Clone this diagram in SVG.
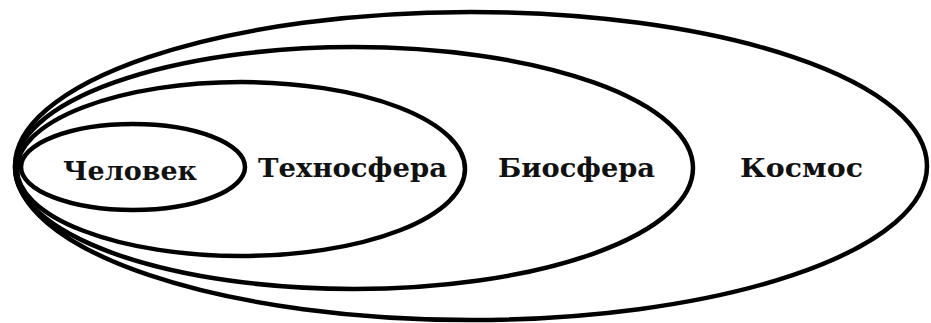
<svg xmlns="http://www.w3.org/2000/svg" width="931" height="323" viewBox="0 0 931 323">
<style>
.ring{fill:none;stroke:#000;stroke-width:4.5}
.lbl{font-family:"DejaVu Serif","Liberation Serif",serif;font-weight:bold;font-size:26px;fill:#111}
</style>
<rect width="931" height="323" fill="#fff"/>
<g id="kosmos">
<ellipse class="ring" cx="471" cy="166" rx="456" ry="154"/>
<text class="lbl" x="740" y="177" textLength="123" lengthAdjust="spacingAndGlyphs">Космос</text>
</g>
<g id="biosfera">
<ellipse class="ring" cx="354" cy="168" rx="339" ry="121"/>
<text class="lbl" x="498" y="177" textLength="157" lengthAdjust="spacingAndGlyphs">Биосфера</text>
</g>
<g id="tekhnosfera">
<ellipse class="ring" cx="241" cy="169" rx="224" ry="87"/>
<text class="lbl" x="258" y="177" textLength="189" lengthAdjust="spacingAndGlyphs">Техносфера</text>
</g>
<g id="chelovek">
<ellipse class="ring" cx="133" cy="167" rx="112" ry="43"/>
<text class="lbl" x="63" y="180" textLength="134" lengthAdjust="spacingAndGlyphs">Человек</text>
</g>
</svg>
